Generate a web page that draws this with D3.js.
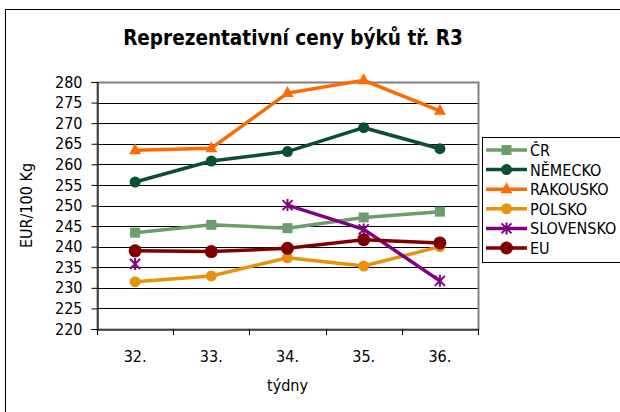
<!DOCTYPE html>
<html>
<head>
<meta charset="utf-8">
<script src="https://cdn.jsdelivr.net/npm/d3@7"></script>
<style>
  body { margin: 0; background: #fff; }
  text { font-family: "DejaVu Sans Condensed", "DejaVu Sans", sans-serif; font-stretch: condensed; fill: #000; }
</style>
</head>
<body>
<div id="chart"></div>
<script>
// weeks and values
const weeks = ["32.", "33.", "34.", "35.", "36."];
const yTicks = [220, 225, 230, 235, 240, 245, 250, 255, 260, 265, 270, 275, 280];

const cr        = [243.4, 245.3, 244.5, 247.1, 248.5];
const nemecko   = [255.7, 260.8, 263.1, 268.9, 263.8];
const rakousko  = [263.4, 263.9, 277.3, 280.4, 273.0];
const polsko    = [231.5, 232.9, 237.3, 235.3, 240.0];
const slovensko = [235.8, null, 250.1, 244.2, 231.7];
const eu        = [239.0, 238.8, 239.6, 241.7, 240.9];

const series = [
    { name: "ČR",        values: cr,        color: "#6b9e6b", marker: "square" },
    { name: "NĚMECKO",   values: nemecko,   color: "#0b4f32", marker: "circle" },
    { name: "RAKOUSKO",  values: rakousko,  color: "#ff6a00", marker: "triangle" },
    { name: "POLSKO",    values: polsko,    color: "#e8910c", marker: "circle" },
    { name: "SLOVENSKO", values: slovensko, color: "#820082", marker: "star" },
    { name: "EU",        values: eu,        color: "#800000", marker: "bigcircle" }
];

const width = 620, height = 412;
const plot = { left: 97, top: 82, right: 478, bottom: 329 };

let svg = d3.select("#chart").append("svg")
    .attr("width", width)
    .attr("height", height);

// outer frame (runs off the right and bottom edges)
svg.append("rect")
    .attr("x", 5.5).attr("y", 9.5)
    .attr("width", 640).attr("height", 420)
    .attr("fill", "#fff").attr("stroke", "#000").attr("stroke-width", 1);

let x = d3.scaleBand().domain(weeks).range([plot.left, plot.right]);
let y = d3.scaleLinear().domain([220, 280]).range([plot.bottom, plot.top]);

// gridlines
svg.append("g")
    .selectAll("line")
    .data(yTicks.slice(1))
    .enter()
    .append("line")
    .attr("x1", plot.left).attr("x2", plot.right)
    .attr("y1", d => Math.round(y(d)) + 0.5).attr("y2", d => Math.round(y(d)) + 0.5)
    .attr("stroke", "#000").attr("stroke-width", 1);

// plot border (gray)
svg.append("rect")
    .attr("x", plot.left + 0.5).attr("y", Math.round(plot.top) + 0.5)
    .attr("width", plot.right - plot.left).attr("height", plot.bottom - plot.top)
    .attr("fill", "none").attr("stroke", "#808080").attr("stroke-width", 2);

// y axis
let yAxis = svg.append("g")
    .attr("transform", "translate(" + (plot.left + 0.5) + ",0)")
    .call(d3.axisLeft(y).tickValues(yTicks).tickSize(6).tickPadding(9));
yAxis.select(".domain").attr("stroke", "#000");
yAxis.selectAll(".tick line").attr("stroke", "#000");
yAxis.selectAll("text").attr("font-size", 16).attr("font-family", null).attr("fill", "#000");

// x axis
let xAxis = svg.append("g")
    .attr("transform", "translate(0," + (plot.bottom + 0.5) + ")")
    .call(d3.axisBottom(x).tickSize(0).tickPadding(21));
xAxis.select(".domain").attr("stroke", "#000");
xAxis.selectAll("text").attr("font-size", 16).attr("font-family", null).attr("fill", "#000");
// tick marks between categories
let bounds = weeks.map(w => x(w)).concat([plot.right]);
svg.append("g").selectAll("line")
    .data(bounds)
    .enter()
    .append("line")
    .attr("x1", d => Math.round(d) + 0.5).attr("x2", d => Math.round(d) + 0.5)
    .attr("y1", plot.bottom).attr("y2", plot.bottom + 6)
    .attr("stroke", "#000");

// axis titles
svg.append("text")
    .attr("x", 293).attr("y", 45)
    .attr("text-anchor", "middle")
    .attr("font-size", 20.5).attr("font-weight", "bold")
    .text("Reprezentativní ceny býků tř. R3");

svg.append("text")
    .attr("transform", "translate(32," + ((plot.top + plot.bottom) / 2) + ") rotate(-90)")
    .attr("text-anchor", "middle")
    .attr("font-size", 16)
    .text("EUR/100 Kg");

svg.append("text")
    .attr("x", (plot.left + plot.right) / 2).attr("y", 391)
    .attr("text-anchor", "middle")
    .attr("font-size", 16)
    .text("týdny");

// markers
function drawMarker(g, type, color, cx, cy) {
    if (type === "square") {
        g.append("rect").attr("x", cx - 5).attr("y", cy - 5).attr("width", 10).attr("height", 10)
            .attr("fill", color);
    } else if (type === "circle") {
        g.append("circle").attr("cx", cx).attr("cy", cy).attr("r", 5.5).attr("fill", color);
    } else if (type === "bigcircle") {
        g.append("circle").attr("cx", cx).attr("cy", cy).attr("r", 6.5).attr("fill", color);
    } else if (type === "triangle") {
        g.append("path")
            .attr("d", "M" + cx + "," + (cy - 7) + "L" + (cx + 6) + "," + (cy + 4) + "L" + (cx - 6) + "," + (cy + 4) + "Z")
            .attr("fill", color);
    } else if (type === "star") {
        let s = 5;
        g.append("path")
            .attr("d", "M" + (cx - s) + "," + (cy - s) + "L" + (cx + s) + "," + (cy + s) +
                "M" + (cx - s) + "," + (cy + s) + "L" + (cx + s) + "," + (cy - s) +
                "M" + cx + "," + (cy - s - 1) + "L" + cx + "," + (cy + s + 1))
            .attr("stroke", color).attr("stroke-width", 2).attr("fill", "none");
    }
}

let line = d3.line()
    .defined(d => d.v != null)
    .x(d => x(d.w) + x.bandwidth() / 2)
    .y(d => y(d.v));

series.forEach(s => {
    let g = svg.append("g");
    g.append("path")
        .datum(s.values.map((v, i) => ({ w: weeks[i], v: v })))
        .attr("d", line)
        .attr("fill", "none")
        .attr("stroke", s.color)
        .attr("stroke-width", 3.5);
    s.values.forEach((v, i) => {
        if (v == null) return;
        drawMarker(g, s.marker, s.color, x(weeks[i]) + x.bandwidth() / 2, y(v));
    });
});

// legend
let legend = svg.append("g");
legend.append("rect")
    .attr("x", 482.5).attr("y", 137.5)
    .attr("width", 200).attr("height", 125)
    .attr("fill", "#fff").attr("stroke", "#000");

series.forEach((s, i) => {
    let ly = 150 + i * 19.6;
    let lg = legend.append("g");
    lg.append("line")
        .attr("x1", 486).attr("x2", 527)
        .attr("y1", ly).attr("y2", ly)
        .attr("stroke", s.color).attr("stroke-width", 3.5);
    drawMarker(lg, s.marker, s.color, 506.5, ly);
    lg.append("text")
        .attr("x", 530).attr("y", ly + 6)
        .attr("font-size", 16)
        .text(s.name);
});
</script>
</body>
</html>
